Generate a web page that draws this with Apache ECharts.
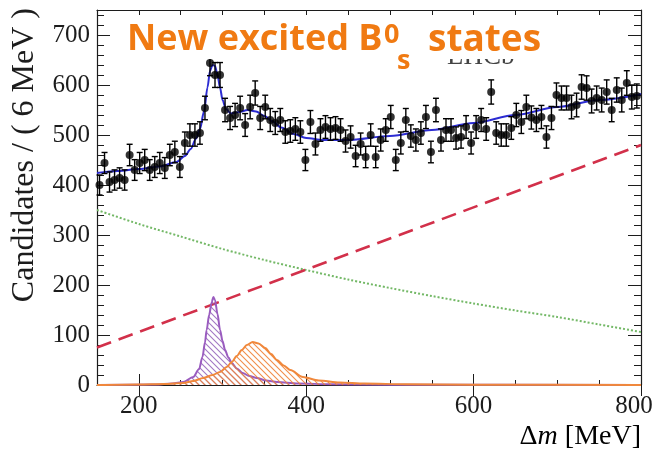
<!DOCTYPE html>
<html>
<head>
<meta charset="utf-8">
<script src="https://cdn.jsdelivr.net/npm/echarts@6/dist/echarts.min.js"></script>
<style>
  html, body { margin: 0; padding: 0; background: #fff; }
  #chart { width: 657px; height: 453px; }
</style>
</head>
<body>
<div id="chart"></div>
<script>
// Histogram: candidates per 6 MeV bin of Δm, starting at 150 MeV
const binStart = 150;
const binWidth = 6;
const candidates = [
  400, 444, 406, 410, 414, 410, 460, 430, 444, 450,
  430, 436, 444, 434, 460, 466, 436, 484, 500, 500,
  504, 554, 644, 620, 620, 550, 534, 540, 554, 520,
  556, 584, 534, 556, 530, 524, 530, 506, 508, 512,
  506, 450, 526, 482, 510, 516, 512, 514, 510, 488,
  496, 458, 482, 456, 500, 456, 490, 510, 536, 450,
  484, 530, 498, 490, 504, 536, 466, 550, 490, 510,
  510, 494, 496, 516, 484, 516, 530, 512, 586, 504,
  500, 500, 514, 540, 526, 556, 535, 530, 536, 496,
  534, 580, 574, 574, 556, 560, 596, 594, 568, 574,
  570, 586, 550, 590, 570, 604, 576, 578
];

// Fit model curves, [Δm, candidates]
const totalFit = [
  [150, 424], [175, 428], [200, 432], [225, 437], [245, 446], [255, 458],
  [262, 472], [268, 492], [273, 512], [278, 548], [282, 595], [285, 628],
  [288, 640], [291, 638], [294, 620], [297, 595], [300, 570], [304, 552],
  [310, 543], [320, 546], [330, 550], [340, 547], [350, 538], [360, 527],
  [370, 515], [385, 502], [400, 494], [420, 490], [450, 490], [500, 498],
  [550, 510], [600, 524], [650, 540], [700, 556], [750, 570], [800, 582]
];
const linearBkg = [[150, 75], [800, 480]];
const expBkg = [
  [150, 350], [200, 322], [250, 297], [300, 272], [350, 250], [400, 230],
  [450, 211], [500, 194], [550, 178], [600, 163], [650, 149], [700, 136],
  [750, 121], [800, 106]
];
const narrowPeak = [
  [150, 0], [220, 1], [240, 3], [253, 6], [265, 16], [272, 32], [276, 56],
  [279, 85], [281, 110], [284, 140], [287, 165], [289, 176], [291, 170],
  [294, 142], [297, 110], [300, 88], [303, 70], [307, 55], [311, 44],
  [317, 33], [324, 24], [332, 18], [341, 14], [352, 9], [365, 6], [390, 3],
  [430, 1.5], [500, 0.5], [800, 0]
];
const widePeak = [
  [150, 0], [200, 1], [230, 2], [253, 4], [265, 8], [277, 14], [288, 20],
  [297, 26], [305, 36], [311, 46], [317, 58], [323, 70], [329, 80], [336, 86],
  [343, 83], [351, 74], [358, 62], [365, 50], [373, 39], [381, 30], [396, 16],
  [415, 9], [440, 5], [470, 3], [520, 1.5], [600, 0.5], [800, 0]
];

const xTickLabels = [200, 400, 600, 800];
const yTickLabels = [0, 100, 200, 300, 400, 500, 600, 700];

const points = candidates.map((v, i) => [binStart + binWidth * (i + 0.5), v]);

// Diagonal hatch tile for the signal components
function hatch(color) {
  const s = 6;
  const c = document.createElement('canvas');
  c.width = s; c.height = s;
  const g = c.getContext('2d');
  g.strokeStyle = color;
  g.lineWidth = 1.1;
  g.beginPath();
  g.moveTo(0, 0); g.lineTo(s, s);
  g.moveTo(-1, s - 1); g.lineTo(1, s + 1);
  g.moveTo(s - 1, -1); g.lineTo(s + 1, 1);
  g.stroke();
  return c;
}

const serif = '"Liberation Serif", "Times New Roman", serif';
const ink = '#1c1c1c';

function xAxisPair(position) {
  return [
    {
      type: 'value', min: 150, max: 800, interval: 50, position,
      axisLine: { show: true, onZero: false, lineStyle: { color: ink, width: 1.2 } },
      axisTick: { show: true, inside: true, length: 5, lineStyle: { color: ink, width: 1 } },
      axisLabel: position === 'bottom'
        ? {
            show: true, customValues: xTickLabels, margin: 9, fontSize: 25, fontFamily: serif, color: ink,
            // keep the last label inside the canvas edge
            formatter: v => (v === xTickLabels[xTickLabels.length - 1] ? '{edge|' + v + '}' : String(v)),
            rich: { edge: { fontSize: 25, fontFamily: serif, color: ink, padding: [0, 14, 0, 0] } }
          }
        : { show: false },
      splitLine: { show: false }
    },
    {
      type: 'value', min: 150, max: 800, position,
      axisLine: { show: false },
      axisTick: { show: true, inside: true, length: 11, customValues: xTickLabels, lineStyle: { color: ink, width: 1 } },
      axisLabel: { show: false },
      splitLine: { show: false }
    }
  ];
}
function yAxisPair(position) {
  return [
    {
      type: 'value', min: 0, max: 750, interval: 20, position,
      axisLine: { show: true, onZero: false, lineStyle: { color: ink, width: 1.2 } },
      axisTick: { show: true, inside: true, length: 7, lineStyle: { color: ink, width: 1 } },
      axisLabel: position === 'left'
        ? { show: true, customValues: yTickLabels, margin: 7, fontSize: 25, fontFamily: serif, color: ink }
        : { show: false },
      splitLine: { show: false }
    },
    {
      type: 'value', min: 0, max: 750, position,
      axisLine: { show: false },
      axisTick: { show: true, inside: true, length: 13, customValues: yTickLabels, lineStyle: { color: ink, width: 1 } },
      axisLabel: { show: false },
      splitLine: { show: false }
    }
  ];
}

// Title pieces
const titleFont = 'bold 36px "Open Sans"';
const tailFont = 'bold 37px "Open Sans"';
const subFont = 'bold 27px "Open Sans"';
const titleColor = '#f07a12';

const chart = echarts.init(document.getElementById('chart'), null, { renderer: 'canvas' });
chart.setOption({
  animation: false,
  backgroundColor: '#fff',
  grid: { left: 97, right: 16, top: 10, bottom: 68, outerBoundsMode: 'none' },
  xAxis: [...xAxisPair('bottom'), ...xAxisPair('top')],
  yAxis: [...yAxisPair('left'), ...yAxisPair('right')],
  series: [
    {
      type: 'line', data: expBkg, xAxisIndex: 0, yAxisIndex: 0, smooth: 0.3,
      showSymbol: false, lineStyle: { color: '#73b866', width: 2, type: [2, 2] }, z: 2
    },
    {
      type: 'line', data: linearBkg, xAxisIndex: 0, yAxisIndex: 0,
      showSymbol: false, lineStyle: { color: '#d2304a', width: 2.6, type: [15, 8] }, z: 2
    },
    {
      type: 'line', data: narrowPeak, xAxisIndex: 0, yAxisIndex: 0, smooth: 0.3, smoothMonotone: 'x',
      showSymbol: false, lineStyle: { color: '#9a5cbf', width: 2 },
      areaStyle: { color: { image: hatch('rgba(145,95,185,0.85)'), repeat: 'repeat' }, opacity: 1 }, z: 3
    },
    {
      type: 'line', data: widePeak, xAxisIndex: 0, yAxisIndex: 0, smooth: 0.3, smoothMonotone: 'x',
      showSymbol: false, lineStyle: { color: '#f0883c', width: 2 },
      areaStyle: { color: { image: hatch('rgba(240,130,55,0.9)'), repeat: 'repeat' }, opacity: 1 }, z: 4
    },
    {
      type: 'line', data: totalFit, xAxisIndex: 0, yAxisIndex: 0, smooth: 0.3, smoothMonotone: 'x',
      showSymbol: false, lineStyle: { color: '#2c2cd2', width: 2 }, z: 5
    },
    {
      type: 'custom', xAxisIndex: 0, yAxisIndex: 0, z: 6,
      data: points.map(([x, y]) => [x, y, Math.sqrt(y)]),
      encode: { x: 0, y: 1 },
      renderItem(params, api) {
        const x = api.value(0), y = api.value(1), e = api.value(2);
        const top = api.coord([x, y + e]);
        const bot = api.coord([x, y - e]);
        const w = 3;
        const st = { stroke: '#000', lineWidth: 1.4 };
        return {
          type: 'group',
          children: [
            { type: 'line', shape: { x1: top[0], y1: top[1], x2: bot[0], y2: bot[1] }, style: st },
            { type: 'line', shape: { x1: top[0] - w, y1: top[1], x2: top[0] + w, y2: top[1] }, style: st },
            { type: 'line', shape: { x1: bot[0] - w, y1: bot[1], x2: bot[0] + w, y2: bot[1] }, style: st }
          ]
        };
      }
    },
    {
      type: 'scatter', data: points, xAxisIndex: 0, yAxisIndex: 0, z: 7,
      symbol: 'circle', symbolSize: 8, itemStyle: { color: '#000' }
    }
  ],
  graphic: [
    {
      type: 'text', x: 25, y: 8, rotation: Math.PI / 2, z: 50,
      style: { text: 'Candidates / ( 6 MeV )', font: '32px ' + serif, fill: ink, align: 'right', verticalAlign: 'middle' }
    },
    {
      type: 'text', x: 641, y: 437, z: 50,
      style: {
        text: '{n|Δ}{i|m}{n| [MeV]}', align: 'right', verticalAlign: 'middle',
        rich: {
          n: { fontFamily: serif, fontSize: 28, color: ink },
          i: { fontFamily: serif, fontSize: 28, fontStyle: 'italic', color: ink }
        }
      }
    },
    {
      type: 'text', x: 447, y: 57, z: 90,
      style: { text: 'LHCb', font: '27px ' + serif, fill: '#444', align: 'left', verticalAlign: 'middle' }
    },
    {
      type: 'rect', z: 100, shape: { x: 120, y: 22, width: 428, height: 37 },
      style: { fill: '#fff' }
    },
    {
      type: 'text', x: 127, y: 40, z: 101,
      style: { text: 'New excited B', font: titleFont, fill: titleColor, verticalAlign: 'middle' }
    },
    {
      type: 'text', x: 384, y: 35, z: 101,
      style: { text: '0', font: subFont, fill: titleColor, verticalAlign: 'middle' }
    },
    {
      type: 'text', x: 397, y: 61, z: 101,
      style: { text: 's', font: subFont, fill: titleColor, verticalAlign: 'middle' }
    },
    {
      type: 'text', x: 428, y: 40, z: 101,
      style: { text: 'states', font: tailFont, fill: titleColor, verticalAlign: 'middle' }
    }
  ]
});
</script>
</body>
</html>
